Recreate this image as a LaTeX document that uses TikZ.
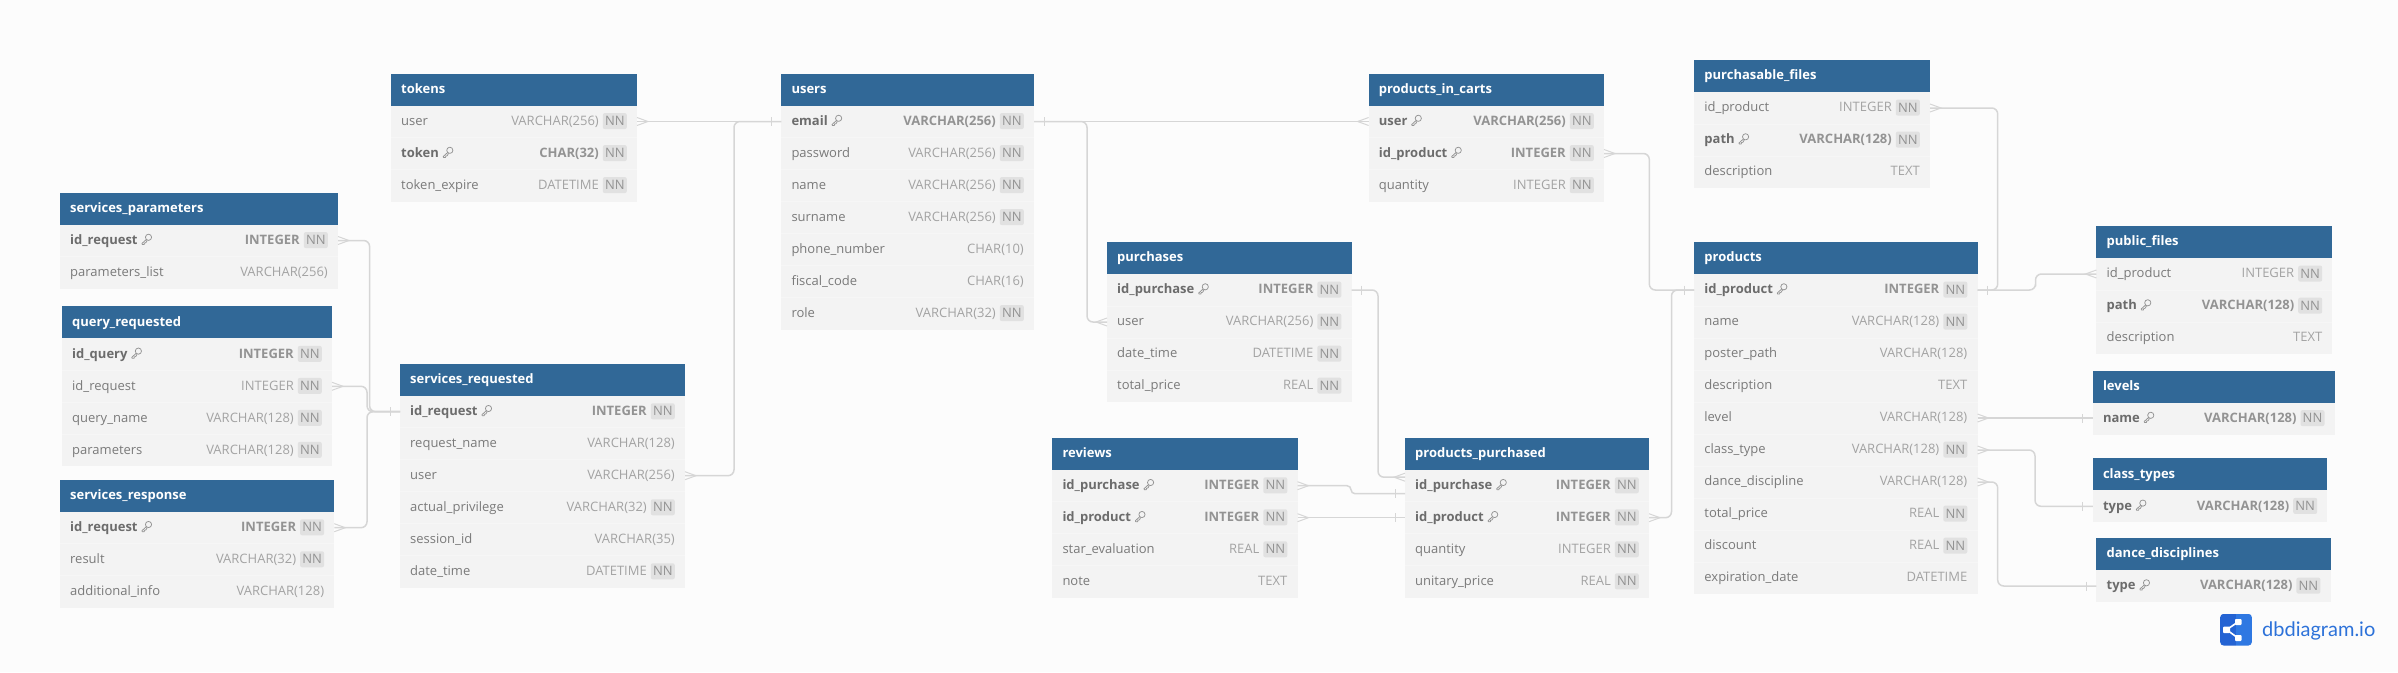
\documentclass[tikz,border=0pt]{standalone}
\usepackage{fontspec}
\setmainfont{Open Sans}
\newfontfamily\logofont{Lato}
\usetikzlibrary{calc}
\definecolor{pagebg}{HTML}{FCFCFC}
\definecolor{headblue}{HTML}{316897}
\definecolor{rowbg}{HTML}{F3F3F3}
\definecolor{rowline}{HTML}{F6F6F6}
\definecolor{fieldgray}{HTML}{7A7A7A}
\definecolor{keygray}{HTML}{6C6C6C}
\definecolor{typegray}{HTML}{A3A3A3}
\definecolor{boldtype}{HTML}{939393}
\definecolor{nnbg}{HTML}{E1E1E1}
\definecolor{nngray}{HTML}{939393}
\definecolor{linegray}{HTML}{D6D6D6}
\definecolor{logodark}{HTML}{2463D3}
\definecolor{logolight}{HTML}{2F78E2}
\definecolor{logotext}{HTML}{2D72D9}
\tikzset{
  headbox/.style={fill=headblue,draw=none,anchor=north west,minimum height=32pt,inner sep=0pt,outer sep=0pt},
  rowbox/.style={fill=rowbg,draw=none,anchor=north west,minimum height=32pt,inner sep=0pt,outer sep=0pt},
  headtxt/.style={anchor=base west,inner sep=0pt,text=white,font=\fontsize{13}{15}\selectfont\bfseries},
  fieldtxt/.style={anchor=base west,inner sep=0pt,text=fieldgray,font=\fontsize{13}{15}\selectfont},
  keytxt/.style={anchor=base west,inner sep=0pt,text=keygray,font=\fontsize{13}{15}\selectfont\bfseries},
  typetxt/.style={anchor=base east,inner sep=0pt,text=typegray,font=\fontsize{13}{15}\selectfont},
  keytype/.style={anchor=base east,inner sep=0pt,text=boldtype,font=\fontsize{13}{15}\selectfont\bfseries},
  nnbox/.style={fill=nnbg,rounded corners=2pt,minimum width=24pt,minimum height=16pt,inner sep=0pt,anchor=east,text=nngray,font=\fontsize{13}{15}\selectfont},
  keyicon/.style={draw=nngray,line width=.75pt,fill=none,line join=round},
  conn/.style={draw=linegray,line width=1.5pt,rounded corners=6pt},
  endmark/.style={draw=linegray,line width=1pt},
}
% \dbtable{id}{title}{left}{right}{top}{rows: name/k or n/type/y or n}
\newcommand{\dbtable}[6]{%
  \pgfmathsetmacro\tw{#4-#3}%
  \node[headbox,minimum width=\tw pt] (#1) at (#3,#5) {};
  \node[headtxt] (#1-title) at ($(#3,#5)+(10,19.8)$) {#2};
  \foreach \fname/\fkey/\ftype/\fnn [count=\i] in {#6}{%
    \pgfmathsetmacro\ry{#5+32*\i}%
    \node[rowbox,minimum width=\tw pt] (#1-\i) at (#3,\ry) {};
    \ifnum\i>1 \draw[rowline,line width=.8pt] (#3,\ry) -- (#4,\ry);\fi
    \if\fkey k%
      \node[keytxt] (#1-\i-name) at (#3+10,\ry+19.8) {\fname};
      \begin{scope}[shift={($(#1-\i-name.base east)+(3.8,.2)$)}]
        \draw[keyicon] (6.9,-7.2) circle (3.1);
        \draw[keyicon] (4.7,-5) -- (.3,-1) -- (.6,0) -- (2.6,0) -- (2.8,-1.4) -- (4.3,-1.8) -- (5.6,-4.1);
      \end{scope}
    \else
      \node[fieldtxt] (#1-\i-name) at (#3+10,\ry+19.8) {\fname};
    \fi
    \if\fnn y%
      \node[nnbox] (#1-\i-nn) at (#4-10,\ry+15.6) {NN};
      \def\tx{#4-38}%
    \else
      \def\tx{#4-10}%
    \fi
    \if\fkey k%
      \node[keytype] (#1-\i-type) at (\tx,\ry+19.8) {\ftype};
    \else
      \node[typetxt] (#1-\i-type) at (\tx,\ry+19.8) {\ftype};
    \fi
  }%
}
% crow's foot: #1 point on table edge, #2 = +1/-1 direction away from the table
\newcommand{\crow}[2]{\draw[endmark] ($(#1)+(0,-4)$) -- ($(#1)+(#2*11,0)$) -- ($(#1)+(0,4)$);}
\newcommand{\onetick}[2]{\draw[endmark] ($(#1)+(#2*10,-4.5)$) -- ($(#1)+(#2*10,4.5)$);}
\begin{document}
\begin{tikzpicture}[x=1pt,y=-1pt]
\useasboundingbox[fill=pagebg] (0,0) rectangle (2398,672);

\dbtable{tokens}{tokens}{391}{637}{73.5}{user/n/VARCHAR(256)/y,token/k/CHAR(32)/y,token\_expire/n/DATETIME/y}
\dbtable{sparams}{services\_parameters}{60}{338}{192.5}{id\_request/k/INTEGER/y,parameters\_list/n/VARCHAR(256)/n}
\dbtable{query}{query\_requested}{62}{332}{306.3}{id\_query/k/INTEGER/y,id\_request/n/INTEGER/y,query\_name/n/VARCHAR(128)/y,parameters/n/VARCHAR(128)/y}
\dbtable{sresp}{services\_response}{60}{334.3}{479.7}{id\_request/k/INTEGER/y,result/n/VARCHAR(32)/y,additional\_info/n/VARCHAR(128)/n}
\dbtable{sreq}{services\_requested}{400}{685}{363.7}{id\_request/k/INTEGER/y,request\_name/n/VARCHAR(128)/n,user/n/VARCHAR(256)/n,actual\_privilege/n/VARCHAR(32)/y,session\_id/n/VARCHAR(35)/n,date\_time/n/DATETIME/y}
\dbtable{users}{users}{781.3}{1034}{73.5}{email/k/VARCHAR(256)/y,password/n/VARCHAR(256)/y,name/n/VARCHAR(256)/y,surname/n/VARCHAR(256)/y,phone\_number/n/CHAR(10)/n,fiscal\_code/n/CHAR(16)/n,role/n/VARCHAR(32)/y}
\dbtable{carts}{products\_in\_carts}{1368.6}{1604}{73.5}{user/k/VARCHAR(256)/y,id\_product/k/INTEGER/y,quantity/n/INTEGER/y}
\dbtable{purch}{purchases}{1107}{1351.6}{242}{id\_purchase/k/INTEGER/y,user/n/VARCHAR(256)/y,date\_time/n/DATETIME/y,total\_price/n/REAL/y}
\dbtable{reviews}{reviews}{1052.3}{1297.5}{437.7}{id\_purchase/k/INTEGER/y,id\_product/k/INTEGER/y,star\_evaluation/n/REAL/y,note/n/TEXT/n}
\dbtable{ppurch}{products\_purchased}{1405}{1649}{437.7}{id\_purchase/k/INTEGER/y,id\_product/k/INTEGER/y,quantity/n/INTEGER/y,unitary\_price/n/REAL/y}
\dbtable{pfiles}{purchasable\_files}{1694.2}{1930}{60}{id\_product/n/INTEGER/y,path/k/VARCHAR(128)/y,description/n/TEXT/n}
\dbtable{products}{products}{1694.2}{1977.5}{242}{id\_product/k/INTEGER/y,name/n/VARCHAR(128)/y,poster\_path/n/VARCHAR(128)/n,description/n/TEXT/n,level/n/VARCHAR(128)/n,class\_type/n/VARCHAR(128)/y,dance\_discipline/n/VARCHAR(128)/n,total\_price/n/REAL/y,discount/n/REAL/y,expiration\_date/n/DATETIME/n}
\dbtable{pubfiles}{public\_files}{2096.4}{2332.4}{226}{id\_product/n/INTEGER/y,path/k/VARCHAR(128)/y,description/n/TEXT/n}
\dbtable{levels}{levels}{2092.8}{2334.7}{370.5}{name/k/VARCHAR(128)/y}
\dbtable{classes}{class\_types}{2092.8}{2327.4}{458.3}{type/k/VARCHAR(128)/y}
\dbtable{dance}{dance\_disciplines}{2096.4}{2330.6}{538}{type/k/VARCHAR(128)/y}

% connectors
\draw[conn] (tokens-1.east) -- (users-1.west);
\crow{tokens-1.east}{1}\onetick{users-1.west}{-1}
\draw[conn] (sreq-3.east) -- ++(49,0) |- (users-1.west);
\crow{sreq-3.east}{1}
\draw[conn] (sparams-1.east) -- ++(31.6,0) |- (sreq-1.west);
\crow{sparams-1.east}{1}
\draw[conn] (query-2.east) -- ++(35,0) |- (sreq-1.west);
\crow{query-2.east}{1}
\draw[conn] (sresp-1.east) -- ++(32.7,0) |- (sreq-1.west);
\crow{sresp-1.east}{1}\onetick{sreq-1.west}{-1}
\draw[conn] (users-1.east) -- (carts-1.west);
\onetick{users-1.east}{1}\crow{carts-1.west}{-1}
\draw[conn] (users-1.east) -- ++(53,0) |- (purch-2.west);
\crow{purch-2.west}{-1}
\coordinate (ppa) at ($(ppurch-1.west)+(0,-8.5)$);
\coordinate (ppb) at ($(ppurch-1.west)+(0,8)$);
\draw[conn] (purch-1.east) -- ++(26.4,0) |- (ppa);
\onetick{purch-1.east}{1}\crow{ppa}{-1}
\draw[conn,rounded corners=4pt] (reviews-1.east) -- ++(53.5,0) |- (ppb);
\crow{reviews-1.east}{1}\onetick{ppb}{-1}
\draw[conn] (reviews-2.east) -- (ppurch-2.west);
\crow{reviews-2.east}{1}\onetick{ppurch-2.west}{-1}
\draw[conn] (ppurch-2.east) -- ++(22.5,0) |- (products-1.west);
\crow{ppurch-2.east}{1}
\draw[conn] (carts-2.east) -- ++(45.3,0) |- (products-1.west);
\crow{carts-2.east}{1}\onetick{products-1.west}{-1}
\draw[conn] (pfiles-1.east) -- ++(67.7,0) |- (products-1.east);
\crow{pfiles-1.east}{1}
\coordinate (jog) at ($(products-1.east)+(58,0)$);
\draw[conn] (products-1.east) -| (jog) |- (pubfiles-1.west);
\onetick{products-1.east}{1}\crow{pubfiles-1.west}{-1}
\draw[conn] (products-5.east) -- (products-5.east -| levels-1.west);
\crow{products-5.east}{1}\onetick{levels-1.west}{-1}
\draw[conn] (products-6.east) -- ++(57.5,0) |- (classes-1.west);
\crow{products-6.east}{1}\onetick{classes-1.west}{-1}
\draw[conn] (products-7.east) -- ++(20.2,0) |- (dance-1.west);
\crow{products-7.east}{1}\onetick{dance-1.west}{-1}

% logo
\begin{scope}
  \clip[rounded corners=4pt] (2220,613.7) rectangle (2252,645.7);
  \fill[logodark] (2220,613.7) rectangle (2236,645.7);
  \fill[logolight] (2236,613.7) rectangle (2252,645.7);
\end{scope}
\draw[white,line width=1.6pt] (2226.5,629.7) -- (2238,622) (2226.5,629.7) -- (2238,638);
\fill[white,rounded corners=.8pt] (2223,626.7) rectangle (2230,633);
\fill[white,rounded corners=.8pt] (2235,619) rectangle (2241.5,625);
\fill[white,rounded corners=.8pt] (2235,635) rectangle (2241.5,641);
\node[anchor=base west,inner sep=0pt,text=logotext,font=\logofont\fontsize{20}{24}\selectfont] (logotxt) at (2262,636) {dbdiagram.io};
\end{tikzpicture}
\end{document}
